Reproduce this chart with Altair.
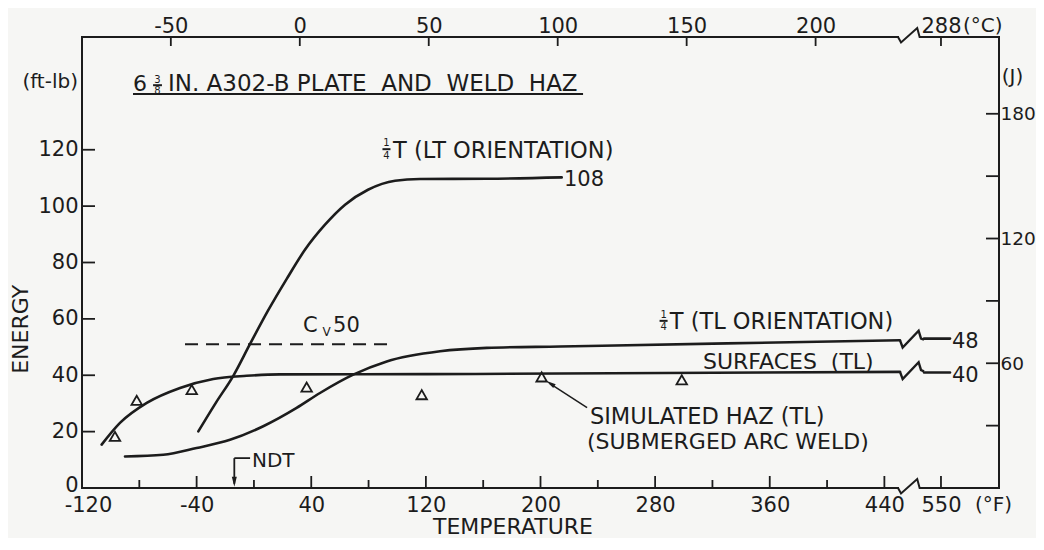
import altair as alt
import pandas as pd

INK = "#1c1c1c"
BG = "#f6f6f4"
FONT = "DejaVu Sans"

# ---------------- values ----------------
# temperature in deg F (bottom axis), energy in ft-lb (left axis)
lt_temp = [-38.8, -26.5, -14.4, -2.7, 9.8, 22.9, 35.6, 49.6, 63.6, 79.6, 98.5, 115.9, 162.7, 214.8]
lt_energy = [20.1, 30.3, 39.8, 51.1, 62.9, 74.2, 84.5, 93.4, 100.5, 105.8, 109.0, 109.6, 109.7, 110.2]

tl_temp = [-90.0, -63.3, -40.0, -16.7, 6.5, 29.8, 46.1, 69.3, 92.7, 129.9, 162.5, 213.6, 330.0, 450.9]
tl_energy = [11.2, 11.8, 14.2, 17.1, 21.9, 28.4, 33.7, 40.2, 44.9, 48.5, 49.7, 50.2, 51.3, 52.4]

sf_temp = [-106.3, -93.5, -74.8, -51.6, -28.4, -5.1, 18.2, 120.0, 250.0, 450.9]
sf_energy = [15.4, 23.1, 30.2, 35.5, 38.7, 39.8, 40.3, 40.4, 40.7, 41.2]

haz_temp = [-97.0, -81.8, -43.4, 36.8, 117.1, 200.8, 298.6]
haz_energy = [18.3, 31.1, 34.9, 35.8, 33.1, 39.4, 38.4]

# short pieces after the axis break, ending at the "48" / "40" labels
tail_temp = [467.7, 485.8]
tl_tail_energy = [53.0, 53.0]
sf_tail_energy = [41.0, 41.0]

cv50_temp = [-48.1, 95.0]
cv50_energy = [51.0, 51.0]

ndt_temp = -13.7

# ---------------- axes ----------------
DOMAIN_T = [-120, 520]
DOMAIN_E = [0, 160]
F_LABELS = [-120, -40, 40, 120, 200, 280, 360, 440]
F_MINOR = [-80, 0, 80, 160, 240, 320, 400]
POS_550 = 479.5          # 550 F / 288 C are drawn here, after the break
BREAK_LO, BREAK_MID, BREAK_HI = 449.5, 457.9, 466.3
CURVE_BREAK = 459.3
C_TICKS = [-50, 0, 50, 100, 150, 200]
E_TICKS = [20, 40, 60, 80, 100, 120]
J_TICKS = [30, 60, 90, 120, 150, 180]
J_LABELS = [60, 120, 180]
FTLB_PER_J = 0.737562

# ---------------- text ----------------
notes = [  # temp, energy, text, font size
    (-84.4, 143.3, "6", 22),
    (-60.0, 143.3, "IN. A302-B PLATE\u00a0 AND\u00a0 WELD\u00a0 HAZ", 23),
    (97.1, 119.7, "T (LT ORIENTATION)", 22.5),
    (290.2, 59.0, "T (TL ORIENTATION)", 22.5),
    (313.4, 44.8, "SURFACES\u00a0 (TL)", 22),
    (234.5, 25.2, "SIMULATED HAZ (TL)", 22.5),
    (232.4, 16.3, "(SUBMERGED ARC WELD)", 22),
    (216.4, 109.4, "108", 21),
    (487.2, 51.8, "48", 21),
    (487.2, 39.7, "40", 21),
    (-1.35, 9.5, "NDT", 20),
    (34.2, 57.3, "C", 21),
    (55.2, 57.3, "50", 21),
    (521.9, 145.8, "(J)", 20),
]
small = [  # stacked fraction digits and subscript
    (-67.3, 144.9, "3", 10), (-67.3, 140.8, "8", 10),
    (92.5, 122.3, "1", 10), (92.5, 117.9, "4", 10),
    (285.9, 61.4, "1", 10), (285.9, 57.0, "4", 10),
    (50.8, 55.4, "V", 12),
]
fraction_bars = [(-70.4, -64.2, 142.9), (89.7, 95.3, 120.2), (283.1, 288.7, 59.3)]
units_low = [(494.9, 161.9, "(\u00b0C)"), (503.2, -8.3, "(\u00b0F)")]
ftlb_label = [(-122.8, 144.0, "(ft-lb)")]
underline = [(-84.4, 229.7, 139.8)]

W, H = 917, 451
XS = alt.Scale(domain=DOMAIN_T, nice=False, zero=False)
YS = alt.Scale(domain=DOMAIN_E, nice=False, zero=False)


def X(f, axis=None):
    return alt.X(f"{f}:Q", scale=XS, axis=axis)


def Y(f, axis=None):
    return alt.Y(f"{f}:Q", scale=YS, axis=axis)


common = dict(ticks=False, tickSize=0, domain=False, grid=False, labelFont=FONT,
              labelColor=INK, labelFlush=False, labelOverlap=False,
              titleFont=FONT, titleColor=INK, titleFontWeight="normal", titleFontSize=22)

ax_bottom = alt.Axis(orient="bottom", values=F_LABELS + [POS_550],
                     labelExpr="datum.value > 470 ? '550' : toString(datum.value)",
                     labelFontSize=21, labelPadding=6, labelBaseline="top",
                     labelOffset={"condition": {"test": "datum.value < -100", "value": 6}, "value": 0},
                     title="TEMPERATURE",
                     titleX=430.5, titleY=38.8, titleAlign="center", titleBaseline="middle",
                     titleAngle=0, **common)
ax_top = alt.Axis(orient="top", values=[c * 1.8 + 32 for c in C_TICKS] + [POS_550],
                  labelExpr="datum.value > 470 ? '288' : toString(round((datum.value - 32) / 1.8))",
                  labelFontSize=21, labelPadding=5, labelBaseline="alphabetic", title=None, **common)
ax_left = alt.Axis(orient="left", values=[0] + E_TICKS, labelFontSize=21, labelPadding=4,
                   labelOffset={"condition": {"test": "datum.value == 0", "value": -3}, "value": 0},
                   title="ENERGY", titleX=-62.0, titleY=291.9, titleAngle=270, titleAlign="center",
                   titleBaseline="middle", **common)
ax_right = alt.Axis(orient="right", values=[j * FTLB_PER_J for j in J_LABELS],
                    labelExpr="toString(round(datum.value / 0.737562))",
                    labelFontSize=18.5, labelPadding=1, labelAlign="left", title=None, **common)

layers = []

# frame
frame_v = pd.DataFrame({"temp": DOMAIN_T, "e0": [0, 0], "e1": [160, 160]})
layers.append(alt.Chart(frame_v).mark_rule(color=INK, strokeWidth=2, strokeCap="square").encode(
    x=X("temp"), y=Y("e0"), y2=alt.Y2("e1:Q")))
frame_h = pd.DataFrame({"t0": [DOMAIN_T[0], BREAK_HI, DOMAIN_T[0], BREAK_HI],
                        "t1": [BREAK_LO, DOMAIN_T[1], BREAK_LO, DOMAIN_T[1]],
                        "energy": [0, 0, 160, 160]})
layers.append(alt.Chart(frame_h).mark_rule(color=INK, strokeWidth=2, strokeCap="square").encode(
    x=X("t0"), x2=alt.X2("t1:Q"), y=Y("energy")))

# break glyphs
AXIS_ZIG = "M-1,0 L-0.75,0.45 L0.6,-0.75 L0.8,0 L1,0"
CURVE_ZIG = "M-1,0 L-0.78,0.6 L0.55,-0.8 L0.75,-0.15 L1,-0.05"
zig_axis = pd.DataFrame({"temp": [BREAK_MID, BREAK_MID], "energy": [0, 160]})
layers.append(alt.Chart(zig_axis).mark_point(shape=AXIS_ZIG, size=576, filled=False, color=INK,
                                             strokeWidth=2, opacity=1).encode(x=X("temp"), y=Y("energy")))
zig_curve = pd.DataFrame({"temp": [CURVE_BREAK, CURVE_BREAK], "energy": [tl_energy[-1], sf_energy[-1]]})
layers.append(alt.Chart(zig_curve).mark_point(shape=CURVE_ZIG, size=576, filled=False, color=INK,
                                              strokeWidth=2.4, opacity=1).encode(x=X("temp"), y=Y("energy")))

# ticks (pointing inward) carrying the axis labels
layers.append(alt.Chart(pd.DataFrame({"temp": F_LABELS[1:] + [POS_550]})).mark_rule(
    color=INK, strokeWidth=1.8).encode(x=X("temp", ax_bottom), y=alt.value(H), y2=alt.value(H - 12)))
layers.append(alt.Chart(pd.DataFrame({"temp": F_MINOR})).mark_rule(
    color=INK, strokeWidth=1.8).encode(x=X("temp"), y=alt.value(H), y2=alt.value(H - 8)))
layers.append(alt.Chart(pd.DataFrame({"temp": [c * 1.8 + 32 for c in C_TICKS] + [POS_550]})).mark_rule(
    color=INK, strokeWidth=1.8).encode(x=X("temp", ax_top), y=alt.value(0), y2=alt.value(9)))
layers.append(alt.Chart(pd.DataFrame({"energy": E_TICKS})).mark_rule(
    color=INK, strokeWidth=1.8).encode(y=Y("energy", ax_left), x=alt.value(0), x2=alt.value(13)))
layers.append(alt.Chart(pd.DataFrame({"energy": [j * FTLB_PER_J for j in J_TICKS]})).mark_rule(
    color=INK, strokeWidth=1.8).encode(y=Y("energy", ax_right), x=alt.value(W), x2=alt.value(W - 13)))


# curves
def curve(t, e, width=2.6):
    df = pd.DataFrame({"temp": t, "energy": e})
    return alt.Chart(df).mark_line(interpolate="monotone", color=INK, strokeWidth=width,
                                   strokeCap="round").encode(x=X("temp"), y=Y("energy"))


layers += [curve(lt_temp, lt_energy), curve(tl_temp, tl_energy), curve(sf_temp, sf_energy),
           curve(tail_temp, tl_tail_energy), curve(tail_temp, sf_tail_energy)]

layers.append(alt.Chart(pd.DataFrame({"temp": cv50_temp, "energy": cv50_energy})).mark_line(
    color=INK, strokeWidth=2, strokeDash=[13, 8]).encode(x=X("temp"), y=Y("energy")))

layers.append(alt.Chart(pd.DataFrame({"temp": haz_temp, "energy": haz_energy})).mark_point(
    shape="triangle-up", size=110, filled=False, color=INK, strokeWidth=1.8, opacity=1).encode(
    x=X("temp"), y=Y("energy")))

# NDT arrow
ARROW = "M0,-1 L0.5,1 L-0.5,1 Z"
layers.append(alt.Chart(pd.DataFrame({"temp": [ndt_temp], "e0": [1.5], "e1": [10.6]})).mark_rule(
    color=INK, strokeWidth=1.8).encode(x=X("temp"), y=Y("e0"), y2=alt.Y2("e1:Q")))
layers.append(alt.Chart(pd.DataFrame({"t0": [ndt_temp], "t1": [ndt_temp + 11], "energy": [10.6]})).mark_rule(
    color=INK, strokeWidth=1.8).encode(x=X("t0"), x2=alt.X2("t1:Q"), y=Y("energy")))
layers.append(alt.Chart(pd.DataFrame({"temp": [ndt_temp], "energy": [2.2]})).mark_point(
    shape=ARROW, size=100, filled=True, color=INK, opacity=1, angle=180).encode(x=X("temp"), y=Y("energy")))

# leader to the simulated HAZ point
layers.append(alt.Chart(pd.DataFrame({"t0": [232.5], "t1": [206.6], "e0": [28.5], "e1": [37.0]})).mark_rule(
    color=INK, strokeWidth=1.5).encode(x=X("t0"), x2=alt.X2("t1:Q"), y=Y("e0"), y2=alt.Y2("e1:Q")))
layers.append(alt.Chart(pd.DataFrame({"temp": [206.8], "energy": [37.1]})).mark_point(
    shape="M0,-1 L0.45,1 L-0.45,1 Z", size=100, filled=True, color=INK, opacity=1, angle=302.7).encode(
    x=X("temp"), y=Y("energy")))

# title underline and fraction bars
layers.append(alt.Chart(pd.DataFrame(underline + fraction_bars, columns=["t0", "t1", "energy"])).mark_rule(
    color=INK, strokeWidth=2).encode(x=X("t0"), x2=alt.X2("t1:Q"), y=Y("energy")))


def texts(rows, align="left", baseline="middle", cols=("temp", "energy", "text", "fs")):
    df = pd.DataFrame(rows, columns=list(cols))
    enc = dict(x=X("temp"), y=Y("energy"), text="text:N")
    if "fs" in df.columns:
        enc["size"] = alt.Size("fs:Q", scale=None, legend=None)
        mark = alt.Chart(df).mark_text(align=align, baseline=baseline, font=FONT, color=INK)
    else:
        mark = alt.Chart(df).mark_text(align=align, baseline=baseline, font=FONT, color=INK, fontSize=20)
    return mark.encode(**enc)


layers.append(texts(notes))
layers.append(texts(small, align="center"))
layers.append(texts(units_low, baseline="alphabetic", cols=("temp", "energy", "text")))
layers.append(texts(ftlb_label, align="right", cols=("temp", "energy", "text")))

chart = alt.layer(*layers).resolve_axis(x="independent", y="independent").properties(
    width=W, height=H,
    autosize=alt.AutoSizeParams(type="none"),
    padding={"left": 74, "top": 29, "right": 37, "bottom": 50},
    background=BG,
).configure_view(stroke=None)

chart.save("out.html", embed_options={"renderer": "svg", "actions": False})
